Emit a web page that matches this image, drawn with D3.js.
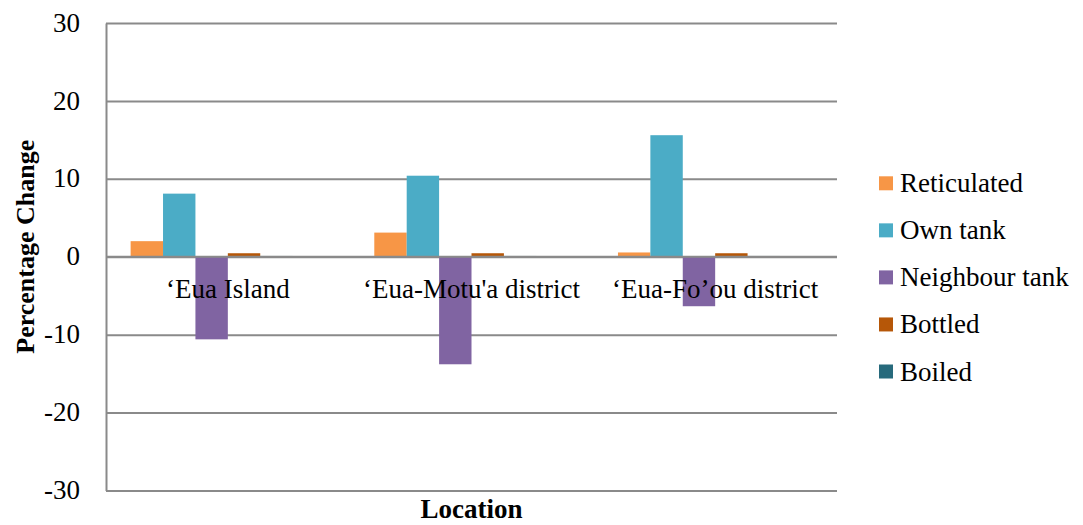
<!DOCTYPE html>
<html>
<head>
<meta charset="utf-8">
<script src="https://cdn.jsdelivr.net/npm/d3@7"></script>
<style>
  html, body { margin: 0; padding: 0; background: #ffffff; }
  svg { display: block; font-family: "Liberation Serif", "Times New Roman", serif; }
</style>
</head>
<body>
<svg id="chart" width="1083" height="525"></svg>
<script>
// Locations along the category axis
const locations = ["\u2018Eua Island", "\u2018Eua-Motu'a district", "\u2018Eua-Fo\u2019ou district"];

// Drinking-water source series (percentage change per location)
const seriesNames = ["Reticulated", "Own tank", "Neighbour tank", "Bottled", "Boiled"];
const reticulated   = [2.0, 3.1, 0.55];
const ownTank       = [8.1, 10.4, 15.6];
const neighbourTank = [-10.6, -13.8, -6.35];
const bottled       = [0.45, 0.45, 0.45];
const boiled        = [0.1, 0.1, 0.1];
const seriesValues  = [reticulated, ownTank, neighbourTank, bottled, boiled];
const seriesColors  = ["#F79646", "#4BACC6", "#8064A2", "#B65708", "#276A7C"];

// Value axis ticks
const yTicks = [-30, -20, -10, 0, 10, 20, 30];

const svg = d3.select("#chart");
const plot = { left: 106, right: 837, top: 23, bottom: 490.5 };

const y = d3.scaleLinear().domain([-30, 30]).range([plot.bottom, plot.top]);

const x0 = d3.scaleBand().domain(locations).range([plot.left, plot.right]).padding(0);

// Six slots per group; the last one stays empty
const slots = d3.range(seriesNames.length + 1);
const x1 = d3.scaleBand().domain(slots).range([0, x0.bandwidth()]).paddingOuter(0.76).paddingInner(0);

// Horizontal gridlines
svg.append("g")
  .attr("transform", `translate(${plot.left},0)`)
  .call(d3.axisLeft(y).tickValues(yTicks).tickSize(-(plot.right - plot.left)).tickFormat(""))
  .call(g => g.select(".domain").remove())
  .call(g => g.selectAll(".tick line").attr("stroke", "#8a8a8a").attr("stroke-width", 2));

// Bars
const table = [];
seriesValues.forEach((vals, si) => {
  vals.forEach((v, ci) => table.push({ s: si, c: locations[ci], v }));
});

svg.append("g")
  .selectAll("rect")
  .data(table)
  .join("rect")
  .attr("x", d => x0(d.c) + x1(d.s))
  .attr("width", x1.bandwidth())
  .attr("y", d => y(Math.max(0, d.v)))
  .attr("height", d => Math.abs(y(d.v) - y(0)))
  .attr("fill", d => seriesColors[d.s]);

// Zero line (category axis)
svg.append("line")
  .attr("x1", plot.left).attr("x2", plot.right)
  .attr("y1", y(0)).attr("y2", y(0))
  .attr("stroke", "#8a8a8a").attr("stroke-width", 2);

// Value axis (plain hyphen for negatives)
const yAxis = svg.append("g")
  .attr("transform", `translate(${plot.left},0)`)
  .call(d3.axisLeft(y).tickValues(yTicks).tickSize(0).tickSizeOuter(0).tickPadding(26).tickFormat(d => String(d)));
yAxis.select(".domain").attr("stroke", "#8a8a8a").attr("stroke-width", 2);
yAxis.selectAll(".tick text")
  .attr("font-family", "Liberation Serif, serif")
  .attr("font-size", 27)
  .attr("fill", "#000")
  .attr("dy", "0.3em");

// Category labels just below the zero line
svg.append("g")
  .selectAll("text")
  .data(locations)
  .join("text")
  .attr("x", d => x0(d) + x0.bandwidth() / 2)
  .attr("y", y(0) + 41)
  .attr("text-anchor", "middle")
  .attr("font-size", 27)
  .attr("fill", "#000")
  .text(d => d);

// Axis titles
svg.append("text")
  .attr("transform", `translate(34,${(plot.top + plot.bottom) / 2 - 10}) rotate(-90)`)
  .attr("text-anchor", "middle")
  .attr("font-size", 26)
  .attr("font-weight", "bold")
  .attr("fill", "#000")
  .text("Percentage Change");

svg.append("text")
  .attr("x", (plot.left + plot.right) / 2)
  .attr("y", 518)
  .attr("text-anchor", "middle")
  .attr("font-size", 27)
  .attr("font-weight", "bold")
  .attr("fill", "#000")
  .text("Location");

// Legend
const legendY = d3.scalePoint().domain(seriesNames).range([183.3, 371.5]);
const legend = svg.append("g")
  .selectAll("g")
  .data(seriesNames)
  .join("g")
  .attr("transform", d => `translate(879,${legendY(d)})`);
legend.append("rect")
  .attr("x", 0).attr("y", -7)
  .attr("width", 14).attr("height", 14)
  .attr("fill", (d, i) => seriesColors[i]);
legend.append("text")
  .attr("x", 21).attr("y", 9)
  .attr("font-size", 27)
  .attr("fill", "#000")
  .text(d => d);
</script>
</body>
</html>
